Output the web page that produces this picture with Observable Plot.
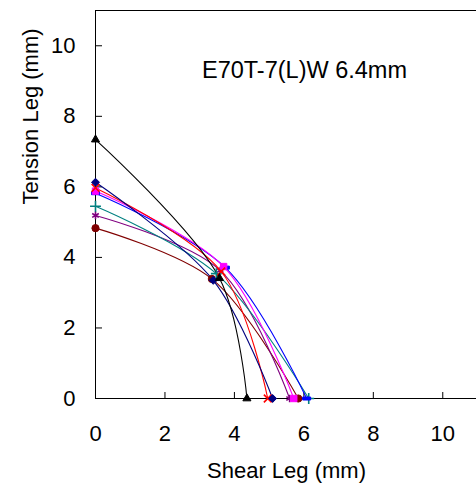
<!DOCTYPE html>
<html><head><meta charset="utf-8">
<script src="https://cdn.jsdelivr.net/npm/d3@7"></script>
<script src="https://cdn.jsdelivr.net/npm/@observablehq/plot@0.6"></script>
<style>body{margin:0;background:#fff;} svg{display:block;}</style>
</head><body><div id="chart"></div>
<script>
const xTicks = [0, 2, 4, 6, 8, 10];
const yTicks = [0, 2, 4, 6, 8, 10];
const xLabel = "Shear Leg (mm)";
const yLabel = "Tension Leg (mm)";
const title = "E70T-7(L)W 6.4mm";
const seriesColors = ["#800000", "#800080", "#008080", "#0000FF", "#FF00FF", "#FF0000", "#000080", "#000000"];
const seriesSymbols = ["circle", "asterisk", "plus", "dash", "square", "times", "diamond2", "triangle"];
const shearLegs = [
  [0, 3.35, 5.84],
  [0, 3.59, 5.59],
  [0, 3.48, 6.14],
  [0, 3.74, 6.08],
  [0, 3.69, 5.71],
  [0, 3.62, 4.96],
  [0, 3.39, 5.10],
  [0, 3.57, 4.36]
];
const tensionLegs = [
  [4.83, 3.39, 0],
  [5.19, 3.63, 0],
  [5.45, 3.54, 0],
  [5.82, 3.71, 0],
  [5.88, 3.74, 0],
  [5.97, 3.60, 0],
  [6.13, 3.35, 0],
  [7.34, 3.41, 0]
];

const W = 476, H = 487, mL = 95, mR = -1, mT = 10, mB = 89;
const plotW = W - mL - mR, plotH = H - mT - mB;
const font = "Arial, 'Liberation Sans', sans-serif";

const dashSymbol = {draw(ctx, size) { ctx.rect(-4, -1.5, 8, 3); }};
const filled = new Set(["circle", "square", "diamond2", "triangle", "dash"]);

const marks = [];
// frame lines (left, bottom, top)
marks.push(Plot.ruleX([0], {stroke: "#000", strokeWidth: 1}));
marks.push(Plot.ruleY([0, 11], {stroke: "#000", strokeWidth: 1}));
// inward ticks
marks.push(Plot.ruleX(xTicks, {stroke: "#000", insetTop: plotH - 6}));
marks.push(Plot.ruleY(yTicks, {stroke: "#000", insetRight: plotW - 7}));
// tick labels
marks.push(Plot.axisX(xTicks, {tickSize: 0, tickPadding: 27, fontSize: 22, label: null}));
marks.push(Plot.axisY(yTicks, {tickSize: 0, tickPadding: 20, fontSize: 22, label: null}));
// axis titles
marks.push(Plot.text([xLabel], {frameAnchor: "bottom", dy: 79, lineAnchor: "bottom", fontSize: 22, fill: "#000"}));
marks.push(Plot.text([yLabel], {frameAnchor: "left", dx: -58, rotate: -90, lineAnchor: "bottom", fontSize: 22, fill: "#000"}));
// annotation
marks.push(Plot.text([title], {frameAnchor: "top", dx: 18, dy: 67, lineAnchor: "bottom", fontSize: 23.5, fill: "#000"}));

shearLegs.forEach((xs, i) => {
  const pts = xs.map((x, j) => ({x, y: tensionLegs[i][j]}));
  const c = seriesColors[i];
  marks.push(Plot.line(pts, {x: "x", y: "y", stroke: c, strokeWidth: 1.1, curve: "catmull-rom"}));
});
shearLegs.forEach((xs, i) => {
  const pts = xs.map((x, j) => ({x, y: tensionLegs[i][j]}));
  const c = seriesColors[i];
  const sname = seriesSymbols[i];
  const sym = sname === "dash" ? dashSymbol : sname;
  const isFilled = filled.has(sname);
  marks.push(Plot.dot(pts, {
    x: "x", y: "y", symbol: sym,
    r: sname === "triangle" ? 3 : (sname === "dash" ? 3.5 : 3.6),
    fill: isFilled ? c : "none",
    stroke: c,
    strokeWidth: isFilled ? 1 : 1.6
  }));
});

const chart = Plot.plot({
  width: W, height: H,
  marginLeft: mL, marginRight: mR, marginTop: mT, marginBottom: mB,
  style: {fontFamily: font, background: "#fff", color: "#000"},
  x: {domain: [0, 11]},
  y: {domain: [0, 11]},
  marks
});
document.getElementById("chart").appendChild(chart);
</script>
</body></html>
